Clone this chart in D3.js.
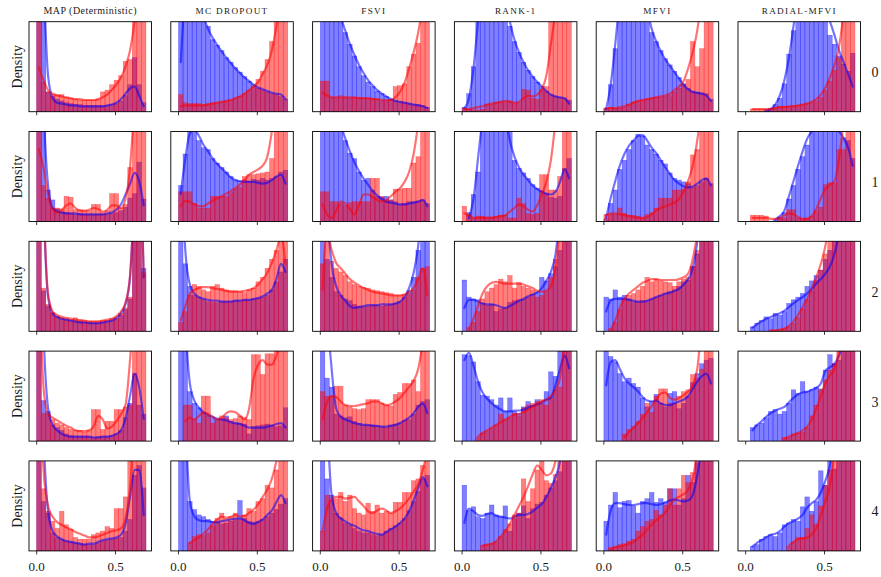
<!DOCTYPE html>
<html>
<head>
<meta charset="utf-8">
<script src="https://cdnjs.cloudflare.com/ajax/libs/d3/7.8.5/d3.min.js"></script>
<style>
  body { margin: 0; background: #fff; }
  svg text { font-family: "Liberation Serif", "DejaVu Serif", serif; fill: #1a1a1a; }
</style>
</head>
<body>
<svg id="chart" width="881" height="577"></svg>
<script>
// ---- data (bar heights / kde values, in % of the panel height; >100 is cut off) ----
const methods = ["MAP (Deterministic)", "MC DROPOUT", "FSVI", "RANK-1", "MFVI", "RADIAL-MFVI"];
const rowLabels = ["0", "1", "2", "3", "4"];
const xTicks = [0, 0.5];
const xTickLabels = ["0.0", "0.5"];
const binRange = [0, 0.693];

const mapBlue = [
  [150, 110, 22, 17, 14, 12, 10, 9, 8, 8, 7, 7, 7, 7, 7, 7, 8, 9, 12, 18, 30, 60, 30, 10],
  [150, 120, 35, 24, 14, 11, 10, 9, 8, 9, 8, 8, 8, 8, 8, 8, 9, 10, 12, 16, 26, 31, 66, 25],
  [150, 45, 28, 20, 16, 14, 13, 12, 11, 11, 10, 10, 9, 9, 10, 11, 12, 14, 18, 24, 36, 130, 150, 70],
  [150, 45, 33, 18, 15, 12, 8, 6, 5, 5, 5, 5, 4, 5, 5, 5, 6, 8, 12, 26, 42, 75, 40, 30],
  [150, 55, 42, 20, 15, 13, 11, 10, 9, 8, 7, 7, 7, 9, 11, 12, 13, 14, 15, 22, 35, 84, 95, 70]
];
const mapRed = [
  [120, 33, 22, 19, 19, 19, 16, 15, 14, 13, 13, 13, 13, 14, 22, 24, 30, 35, 40, 56, 58, 110, 120, 130],
  [150, 40, 26, 15, 15, 14, 28, 27, 13, 13, 12, 12, 19, 19, 10, 12, 31, 31, 15, 19, 60, 130, 150, 150],
  [150, 48, 30, 21, 17, 15, 14, 13, 15, 13, 12, 11, 11, 11, 12, 12, 14, 15, 20, 26, 38, 130, 150, 65],
  [150, 31, 30, 24, 20, 18, 15, 13, 12, 12, 10, 12, 35, 35, 13, 22, 22, 35, 35, 38, 40, 110, 150, 120],
  [150, 69, 44, 33, 25, 44, 29, 24, 15, 13, 13, 13, 18, 20, 22, 27, 25, 47, 47, 60, 110, 150, 150, 130]
];
const mapBlueKde = [
  [300, 150, 40, 15, 10, 9, 8, 7, 7, 6, 6, 6, 6, 6, 6, 7, 8, 10, 14, 20, 26, 28, 18, 6],
  [300, 130, 40, 15, 11, 10, 9, 9, 9, 8, 8, 8, 8, 8, 8, 9, 10, 13, 19, 30, 42, 54, 45, 18],
  [400, 150, 38, 20, 16, 14, 13, 12, 11, 10, 10, 9, 9, 9, 10, 11, 12, 15, 20, 30, 60, 150, 200, 60],
  [300, 120, 37, 18, 12, 8, 6, 5, 5, 5, 5, 5, 4, 4, 5, 5, 6, 8, 12, 25, 50, 75, 60, 25],
  [300, 130, 44, 22, 16, 13, 11, 10, 9, 8, 7, 8, 8, 10, 12, 13, 14, 15, 18, 30, 60, 90, 90, 40]
];
const mapRedKde = [
  [49, 35, 24, 20, 18, 17, 16, 15, 14, 14, 13, 13, 13, 14, 16, 19, 24, 30, 38, 50, 68, 100, 140, 170],
  [80, 60, 30, 14, 10, 13, 18, 20, 15, 12, 12, 13, 15, 14, 11, 13, 18, 18, 15, 25, 60, 130, 180, 200],
  [400, 155, 42, 22, 18, 16, 15, 14, 13, 12, 12, 11, 11, 11, 12, 13, 14, 17, 22, 32, 62, 150, 200, 60],
  [200, 60, 30, 26, 23, 20, 17, 15, 12, 11, 11, 12, 16, 28, 24, 14, 16, 22, 30, 40, 90, 160, 200, 200],
  [250, 90, 50, 38, 32, 29, 26, 24, 21, 19, 17, 15, 15, 16, 18, 20, 22, 23, 25, 36, 70, 150, 200, 200]
];

const mcBlue = [
  [110, 150, 150, 140, 125, 110, 95, 80, 74, 68, 60, 55, 49, 44, 39, 34, 30, 26, 24, 22, 20, 19, 17, 14],
  [40, 75, 100, 100, 90, 82, 80, 70, 65, 60, 55, 50, 46, 45, 46, 45, 47, 46, 48, 46, 48, 50, 55, 57],
  [150, 75, 50, 40, 38, 35, 33, 32, 32, 33, 33, 33, 34, 34, 35, 35, 36, 37, 38, 40, 46, 55, 66, 80],
  [150, 120, 55, 42, 37, 32, 28, 26, 24, 25, 28, 22, 20, 20, 19, 8, 16, 17, 18, 19, 18, 16, 17, 37],
  [150, 120, 55, 46, 40, 38, 35, 33, 32, 30, 31, 33, 35, 56, 36, 33, 32, 33, 35, 38, 42, 46, 52, 58]
];
const mcRed = [
  [19, 10, 9, 9, 9, 8, 9, 10, 10, 11, 12, 13, 15, 17, 20, 24, 28, 36, 45, 58, 78, 110, 130, 140],
  [33, 33, 33, 20, 15, 15, 15, 28, 28, 28, 28, 32, 36, 38, 50, 52, 52, 53, 54, 55, 70, 120, 150, 150],
  [10, 22, 40, 52, 50, 46, 44, 50, 52, 48, 46, 45, 45, 44, 43, 46, 48, 55, 60, 70, 80, 90, 100, 120],
  [0, 40, 40, 24, 20, 50, 50, 20, 24, 28, 26, 24, 25, 28, 26, 24, 96, 96, 74, 97, 97, 100, 110, 120],
  [0, 0, 9, 16, 18, 17, 20, 28, 36, 42, 36, 38, 42, 35, 40, 47, 44, 55, 58, 73, 70, 90, 110, 150]
];
const mcBlueKde = [
  [55, 130, 150, 135, 120, 105, 92, 82, 74, 67, 60, 54, 48, 43, 38, 34, 30, 27, 25, 23, 21, 20, 19, 14],
  [31, 70, 98, 102, 95, 85, 78, 70, 64, 59, 54, 49, 46, 45, 44, 44, 44, 43, 42, 43, 46, 50, 52, 42],
  [200, 90, 52, 42, 38, 36, 35, 34, 34, 33, 33, 33, 34, 34, 35, 35, 36, 37, 39, 42, 46, 58, 75, 66],
  [300, 140, 64, 45, 37, 32, 29, 27, 25, 24, 23, 21, 20, 19, 17, 15, 15, 15, 15, 16, 17, 19, 20, 15],
  [300, 150, 55, 38, 34, 33, 33, 32, 32, 33, 34, 35, 36, 36, 34, 31, 30, 32, 35, 40, 45, 54, 62, 53]
];
const mcRedKde = [
  [6, 7, 7, 7, 7, 7, 8, 9, 10, 11, 12, 13, 15, 17, 20, 24, 28, 33, 42, 52, 68, 95, 130, 170],
  [17, 23, 22, 19, 17, 17, 20, 23, 26, 28, 31, 34, 37, 41, 46, 52, 55, 58, 62, 72, 100, 140, 180, 200],
  [12, 28, 42, 46, 48, 49, 49, 48, 47, 46, 45, 44, 44, 44, 45, 46, 48, 52, 58, 65, 76, 90, 105, 75],
  [null, 22, 26, 24, 28, 32, 30, 27, 24, 26, 31, 33, 32, 28, 24, 36, 70, 85, 90, 85, 85, 95, 110, 130],
  [null, null, 9, 12, 15, 19, 24, 30, 35, 38, 37, 38, 40, 38, 39, 42, 46, 52, 60, 68, 80, 100, 130, 160]
];

const fsviBlue = [
  [150, 150, 140, 125, 105, 88, 75, 62, 50, 40, 33, 28, 23, 20, 17, 14, 12, 11, 10, 9, 8, 8, 7, 5],
  [150, 150, 140, 115, 100, 90, 76, 70, 55, 46, 48, 35, 28, 27, 28, 24, 22, 19, 20, 22, 22, 23, 24, 20],
  [150, 80, 60, 44, 40, 36, 34, 30, 28, 27, 28, 29, 29, 28, 29, 30, 31, 33, 38, 45, 60, 90, 120, 140],
  [150, 70, 60, 30, 28, 26, 27, 22, 20, 18, 18, 18, 17, 16, 15, 18, 19, 20, 23, 24, 30, 40, 44, 46],
  [150, 80, 62, 42, 37, 31, 29, 25, 22, 20, 20, 18, 17, 18, 22, 25, 28, 31, 36, 45, 55, 66, 80, 84]
];
const fsviRed = [
  [34, 34, 16, 15, 16, 16, 15, 16, 16, 15, 15, 15, 14, 12, 12, 13, 28, 29, 31, 50, 64, 76, 110, 130],
  [33, 33, 22, 22, 20, 18, 21, 22, 22, 22, 22, 48, 48, 28, 24, 24, 36, 36, 37, 37, 65, 72, 130, 150],
  [75, 140, 78, 70, 66, 62, 55, 52, 50, 49, 48, 46, 45, 44, 43, 42, 40, 40, 41, 42, 46, 60, 70, 72],
  [55, 50, 50, 61, 61, 40, 38, 36, 35, 36, 46, 46, 46, 42, 40, 39, 52, 54, 64, 64, 68, 55, 100, 130],
  [22, 62, 56, 58, 65, 55, 62, 47, 42, 40, 53, 44, 51, 42, 44, 42, 54, 54, 65, 65, 78, 80, 95, 110]
];
const fsviBlueKde = [
  [200, 170, 145, 125, 105, 90, 75, 63, 52, 43, 35, 29, 24, 20, 17, 14, 12, 11, 10, 9, 8, 7, 6, 4],
  [250, 200, 160, 130, 108, 92, 78, 66, 56, 48, 41, 34, 29, 25, 22, 21, 20, 19, 19, 20, 21, 22, 24, 17],
  [300, 140, 75, 50, 40, 34, 28, 26, 27, 28, 29, 29, 29, 30, 30, 30, 31, 33, 38, 48, 65, 95, 150, 200],
  [300, 150, 80, 36, 27, 24, 22, 20, 19, 18, 18, 17, 17, 16, 16, 17, 18, 20, 23, 26, 31, 38, 42, 31],
  [300, 150, 62, 42, 36, 33, 30, 28, 25, 23, 22, 20, 19, 18, 21, 24, 27, 31, 36, 44, 56, 70, 82, 72]
];
const fsviRedKde = [
  [21, 18, 16, 16, 17, 16, 16, 16, 15, 15, 15, 14, 14, 13, 13, 13, 16, 22, 32, 48, 66, 88, 120, 160],
  [19, 8, 4, 12, 22, 20, 14, 8, 18, 30, 30, 27, 24, 22, 24, 28, 33, 37, 44, 55, 75, 110, 160, 200],
  [46, 110, 90, 76, 70, 64, 58, 54, 51, 48, 46, 44, 43, 42, 41, 40, 40, 40, 41, 44, 48, 58, 70, 40],
  [24, 44, 50, 49, 44, 40, 39, 39, 40, 41, 42, 44, 44, 42, 40, 41, 44, 48, 54, 60, 67, 80, 110, 150],
  [22, 47, 58, 60, 60, 58, 59, 60, 55, 50, 44, 42, 45, 47, 45, 42, 44, 47, 52, 58, 66, 74, 90, 110]
];

const rank1Blue = [
  [5, 20, 50, 110, 140, 150, 150, 150, 140, 125, 95, 78, 66, 55, 46, 39, 33, 28, 23, 19, 17, 16, 15, 13],
  [0, 10, 30, 55, 105, 150, 150, 150, 150, 150, 100, 68, 59, 54, 48, 41, 37, 34, 31, 27, 26, 28, 59, 70],
  [57, 38, 36, 35, 31, 29, 30, 22, 25, 26, 32, 34, 35, 36, 38, 41, 44, 60, 56, 64, 72, 90, 140, 150],
  [96, 95, 88, 66, 51, 50, 46, 40, 48, 33, 48, 33, 31, 38, 44, 40, 46, 42, 55, 77, 72, 100, 120, 130],
  [73, 45, 49, 38, 36, 42, 51, 40, 38, 50, 22, 36, 42, 50, 36, 47, 52, 54, 62, 70, 78, 88, 150, 150]
];
const rank1Red = [
  [4, 3, 2, 2, 3, 8, 8, 10, 11, 11, 12, 9, 10, 25, 24, 15, 14, 25, 28, 110, 130, 140, 150, 150],
  [17, 8, 4, 6, 6, 5, 5, 6, 7, 7, 4, 4, 26, 20, 9, 8, 9, 52, 52, 35, 35, 50, 130, 150],
  [0, 4, 10, 22, 36, 44, 48, 52, 58, 55, 62, 48, 54, 50, 48, 46, 38, 40, 44, 60, 80, 120, 150, 150],
  [0, 0, 0, 4, 9, 11, 14, 18, 30, 24, 26, 31, 28, 37, 40, 42, 44, 46, 40, 48, 57, 60, 120, 150],
  [0, 0, 0, 0, 6, 7, 8, 10, 16, 24, 30, 40, 42, 80, 55, 69, 90, 100, 78, 75, 85, 110, 150, 150]
];
const rank1BlueKde = [
  [4, 15, 48, 100, 140, 160, 165, 160, 145, 125, 100, 80, 66, 55, 46, 39, 33, 28, 23, 19, 17, 16, 15, 9],
  [null, 4, 25, 70, 115, 150, 160, 160, 150, 120, 90, 72, 60, 52, 46, 40, 36, 33, 31, 30, 33, 44, 58, 48],
  [26, 35, 35, 33, 31, 30, 30, 29, 27, 26, 28, 31, 34, 36, 39, 41, 43, 48, 56, 66, 85, 130, 180, 200],
  [90, 98, 84, 66, 54, 47, 42, 38, 35, 33, 33, 34, 34, 35, 37, 39, 41, 43, 46, 48, 62, 80, 95, 81],
  [31, 47, 44, 40, 39, 41, 42, 39, 38, 37, 36, 38, 40, 40, 41, 44, 48, 52, 60, 70, 82, 100, 150, 200]
];
const rank1RedKde = [
  [3, 3, 4, 5, 6, 8, 9, 10, 11, 12, 11, 10, 11, 15, 18, 17, 19, 25, 40, 75, 110, 150, 180, 200],
  [9, 7, 4, 4, 4, 4, 4, 5, 6, 7, 11, 15, 19, 17, 13, 11, 18, 30, 44, 68, 110, 150, 180, 200],
  [null, 3, 14, 28, 42, 50, 54, 55, 54, 53, 53, 53, 53, 52, 50, 48, 45, 44, 45, 50, 70, 120, 180, 220],
  [null, null, null, 5, 9, 12, 15, 18, 21, 24, 27, 29, 30, 32, 35, 38, 41, 44, 46, 50, 57, 70, 110, 150],
  [null, null, null, null, 6, 7, 8, 11, 16, 22, 30, 40, 50, 60, 72, 85, 95, 90, 84, 86, 100, 130, 170, 200]
];

const mfviBlue = [
  [4, 30, 70, 120, 150, 150, 150, 150, 150, 130, 88, 78, 68, 59, 52, 45, 38, 31, 26, 23, 22, 21, 20, 14],
  [3, 20, 35, 58, 68, 80, 90, 97, 95, 85, 80, 75, 68, 64, 54, 48, 46, 44, 42, 38, 40, 44, 48, 42],
  [38, 36, 46, 38, 40, 36, 33, 33, 34, 34, 36, 38, 40, 42, 44, 46, 50, 55, 57, 72, 86, 140, 150, 150],
  [100, 94, 88, 75, 66, 70, 64, 60, 48, 38, 44, 52, 42, 38, 53, 55, 36, 42, 50, 65, 75, 86, 90, 92],
  [33, 51, 65, 48, 55, 56, 50, 42, 55, 58, 65, 54, 58, 54, 69, 69, 51, 58, 84, 76, 98, 130, 150, 150]
];
const mfviRed = [
  [4, 5, 4, 4, 5, 8, 11, 12, 13, 14, 15, 16, 16, 17, 18, 22, 26, 30, 36, 78, 50, 70, 130, 150],
  [8, 8, 8, 15, 9, 7, 7, 6, 4, 8, 10, 15, 26, 26, 26, 35, 35, 36, 44, 74, 80, 120, 150, 150],
  [0, 3, 10, 24, 36, 40, 42, 46, 50, 60, 55, 58, 56, 55, 54, 50, 55, 58, 60, 72, 90, 130, 150, 150],
  [0, 0, 0, 0, 8, 13, 16, 22, 30, 42, 32, 50, 58, 58, 42, 42, 50, 55, 57, 74, 70, 80, 110, 150],
  [0, 4, 5, 7, 8, 11, 13, 22, 27, 33, 35, 45, 40, 51, 69, 51, 69, 84, 76, 87, 110, 150, 150, 150]
];
const mfviBlueKde = [
  [3, 30, 75, 125, 150, 160, 160, 150, 135, 115, 92, 78, 67, 58, 51, 44, 37, 30, 25, 22, 21, 20, 18, 12],
  [4, 26, 45, 62, 75, 84, 90, 95, 96, 90, 82, 76, 68, 60, 53, 46, 42, 39, 38, 39, 42, 46, 48, 40],
  [22, 34, 36, 36, 36, 35, 34, 33, 33, 34, 36, 38, 40, 42, 43, 45, 47, 52, 58, 70, 100, 170, 220, 250],
  [62, 88, 90, 80, 70, 64, 60, 55, 49, 45, 44, 45, 42, 40, 40, 42, 44, 46, 50, 58, 66, 72, 75, 64],
  [18, 45, 53, 53, 52, 51, 51, 52, 53, 53, 52, 51, 52, 54, 56, 57, 56, 55, 56, 62, 84, 120, 180, 220]
];
const mfviRedKde = [
  [4, 4, 4, 5, 6, 8, 10, 12, 13, 14, 15, 16, 17, 18, 20, 24, 28, 34, 48, 66, 90, 130, 170, 200],
  [7, 9, 9, 8, 7, 6, 5, 4, 4, 5, 8, 12, 15, 17, 19, 21, 25, 33, 45, 62, 90, 130, 170, 200],
  [null, 2, 12, 26, 36, 42, 46, 50, 54, 56, 58, 58, 57, 57, 57, 57, 58, 60, 64, 80, 110, 170, 220, 260],
  [null, null, null, null, 4, 10, 15, 20, 26, 32, 39, 46, 53, 54, 48, 46, 48, 51, 55, 62, 80, 130, 180, 220],
  [null, 2, 4, 5, 6, 8, 10, 14, 18, 24, 29, 34, 38, 43, 50, 57, 60, 63, 68, 80, 110, 150, 200, 230]
];

const radialBlue = [
  [0, 0, 0, 0, 1, 3, 8, 15, 31, 64, 90, 120, 150, 150, 150, 150, 150, 130, 85, 75, 62, 53, 45, 65],
  [0, 0, 0, 0, 0, 0, 2, 5, 10, 25, 40, 58, 72, 85, 100, 110, 115, 115, 110, 108, 104, 93, 90, 70],
  [0, 5, 9, 12, 16, 14, 20, 18, 22, 31, 35, 38, 42, 50, 56, 62, 68, 80, 90, 110, 130, 150, 150, 150],
  [0, 15, 18, 20, 26, 33, 35, 30, 33, 42, 57, 53, 66, 55, 57, 60, 58, 79, 96, 86, 90, 100, 120, 150],
  [0, 5, 7, 13, 16, 18, 16, 20, 29, 31, 35, 33, 49, 60, 44, 55, 89, 73, 100, 91, 120, 150, 150, 150]
];
const radialRed = [
  [0, 3, 3, 3, 3, 4, 5, 6, 6, 6, 7, 7, 8, 9, 10, 12, 16, 24, 34, 46, 60, 110, 140, 150],
  [0, 7, 7, 7, 6, 0, 0, 4, 4, 13, 13, 4, 3, 4, 6, 12, 16, 41, 43, 43, 80, 80, 120, 150],
  [0, 0, 0, 0, 0, 1, 1, 2, 3, 5, 9, 15, 25, 35, 45, 57, 68, 86, 120, 150, 150, 150, 150, 150],
  [0, 0, 0, 0, 0, 0, 0, 0, 4, 4, 8, 9, 10, 15, 28, 40, 57, 68, 79, 86, 100, 130, 150, 150],
  [0, 0, 0, 0, 0, 0, 0, 0, 0, 5, 10, 15, 15, 25, 40, 30, 50, 73, 90, 150, 150, 150, 150, 150]
];
const radialBlueKde = [
  [null, null, null, null, 1, 3, 8, 18, 35, 60, 95, 130, 150, 160, 160, 150, 130, 110, 100, 85, 68, 55, 42, 28],
  [null, null, null, null, null, null, 2, 6, 12, 28, 45, 62, 78, 92, 100, 105, 108, 108, 106, 104, 100, 93, 82, 62],
  [null, 4, 8, 11, 14, 16, 18, 20, 23, 27, 31, 35, 38, 42, 47, 53, 58, 64, 72, 86, 110, 150, 200, 250],
  [null, 12, 18, 22, 27, 31, 34, 36, 38, 43, 48, 52, 54, 55, 57, 59, 64, 78, 82, 86, 95, 110, 130, 150],
  [null, 5, 9, 12, 15, 18, 19, 22, 27, 31, 33, 36, 40, 48, 53, 57, 65, 78, 95, 130, 180, 220, 250, 270]
];
const radialRedKde = [
  [null, 3, 3, 3, 3, 3, 4, 5, 5, 6, 6, 7, 8, 9, 11, 14, 19, 27, 38, 52, 72, 110, 160, 200],
  [null, 4, 4, 4, 4, 3, 3, 4, 7, 9, 8, 5, 3, 3, 6, 14, 26, 36, 41, 45, 70, 110, 150, 200],
  [null, null, null, null, null, 1, 1, 2, 3, 6, 11, 18, 27, 36, 48, 60, 75, 95, 130, 180, 220, 250, 270, 280],
  [null, null, null, null, null, null, null, null, 3, 5, 7, 9, 12, 16, 24, 36, 50, 64, 73, 80, 100, 140, 180, 220],
  [null, null, null, null, null, null, null, null, null, 6, 10, 13, 14, 15, 18, 25, 40, 55, 72, 110, 170, 220, 260, 290]
];

// one entry per column, built from the arrays above
const columns = [
  { blue: mapBlue, red: mapRed, blueKde: mapBlueKde, redKde: mapRedKde },
  { blue: mcBlue, red: mcRed, blueKde: mcBlueKde, redKde: mcRedKde },
  { blue: fsviBlue, red: fsviRed, blueKde: fsviBlueKde, redKde: fsviRedKde },
  { blue: rank1Blue, red: rank1Red, blueKde: rank1BlueKde, redKde: rank1RedKde },
  { blue: mfviBlue, red: mfviRed, blueKde: mfviBlueKde, redKde: mfviRedKde },
  { blue: radialBlue, red: radialRed, blueKde: radialBlueKde, redKde: radialRedKde }
];

// ---- layout ----
const svg = d3.select("#chart");
const W = 122.5, H = 90;
const left0 = 29, colStep = 141.8, top0 = 21.7, rowStep = 109.8;

const x = d3.scaleLinear().domain([-0.0487, 0.728]).range([0, W]);
const y = d3.scaleLinear().domain([0, 100]).range([H, 0]);

const nBins = 24;
const binW = (binRange[1] - binRange[0]) / nBins;
const binLo = i => binRange[0] + i * binW;
const binMid = i => binRange[0] + (i + 0.5) * binW;

const kdeLine = d3.line()
  .defined(d => d != null)
  .x((d, i) => x(binMid(i)))
  .y(d => y(d))
  .curve(d3.curveMonotoneX);

const series = [
  { key: "blue", kde: "blueKde", color: "#0000ff" },
  { key: "red", kde: "redKde", color: "#ff0000" }
];

columns.forEach((col, c) => {
  rowLabels.forEach((lab, r) => {
    const g = svg.append("g")
      .attr("transform", `translate(${left0 + c * colStep},${top0 + r * rowStep})`);

    const clipId = `clip-${c}-${r}`;
    g.append("clipPath").attr("id", clipId)
      .append("rect").attr("width", W).attr("height", H);

    const plot = g.append("g").attr("clip-path", `url(#${clipId})`);

    // histograms (blue first, red over it)
    series.forEach(s => {
      plot.append("g").selectAll("rect")
        .data(col[s.key][r].map((v, i) => ({ v, i })).filter(d => d.v > 0))
        .join("rect")
        .attr("x", d => x(binLo(d.i)))
        .attr("width", d => x(binLo(d.i + 1)) - x(binLo(d.i)))
        .attr("y", d => y(Math.min(d.v, 120)))
        .attr("height", d => y(0) - y(Math.min(d.v, 120)))
        .attr("fill", s.color)
        .attr("fill-opacity", 0.5)
        .attr("stroke", s.color)
        .attr("stroke-opacity", 0.45)
        .attr("stroke-width", 0.5);
    });

    // kde curves
    series.forEach(s => {
      plot.append("path")
        .attr("d", kdeLine(col[s.kde][r]))
        .attr("fill", "none")
        .attr("stroke", s.color)
        .attr("stroke-opacity", 0.55)
        .attr("stroke-width", 2.2)
        .attr("stroke-linecap", "round");
    });

    // frame
    g.append("rect")
      .attr("width", W).attr("height", H)
      .attr("fill", "none").attr("stroke", "#000").attr("stroke-width", 0.9);

    // x ticks
    g.selectAll(".tick").data(xTicks).join("line")
      .attr("x1", d => x(d)).attr("x2", d => x(d))
      .attr("y1", H).attr("y2", H + 3.5)
      .attr("stroke", "#000").attr("stroke-width", 0.8);

    if (r === rowLabels.length - 1) {
      g.selectAll(".ticklab").data(xTicks).join("text")
        .attr("x", d => x(d)).attr("y", H + 20)
        .attr("text-anchor", "middle")
        .style("font-size", "13px")
        .text((d, i) => xTickLabels[i]);
    }

    if (r === 0) {
      const isMap = c === 0;
      g.append("text")
        .attr("x", W / 2).attr("y", 13.5 - top0)
        .attr("text-anchor", "middle")
        .style("font-size", isMap ? "10px" : "9.2px")
        .style("letter-spacing", isMap ? "0.45px" : "1.3px")
        .text(methods[c]);
    }

    if (c === 0) {
      g.append("text")
        .attr("transform", `translate(${22 - left0},${H / 2}) rotate(-90)`)
        .attr("text-anchor", "middle")
        .style("font-size", "14px")
        .text("Density");
    }

    if (c === columns.length - 1) {
      g.append("text")
        .attr("x", 875 - left0 - c * colStep).attr("y", H / 2 + 10.5)
        .attr("text-anchor", "middle")
        .style("font-size", "14px")
        .text(lab);
    }
  });
});
</script>
</body>
</html>
